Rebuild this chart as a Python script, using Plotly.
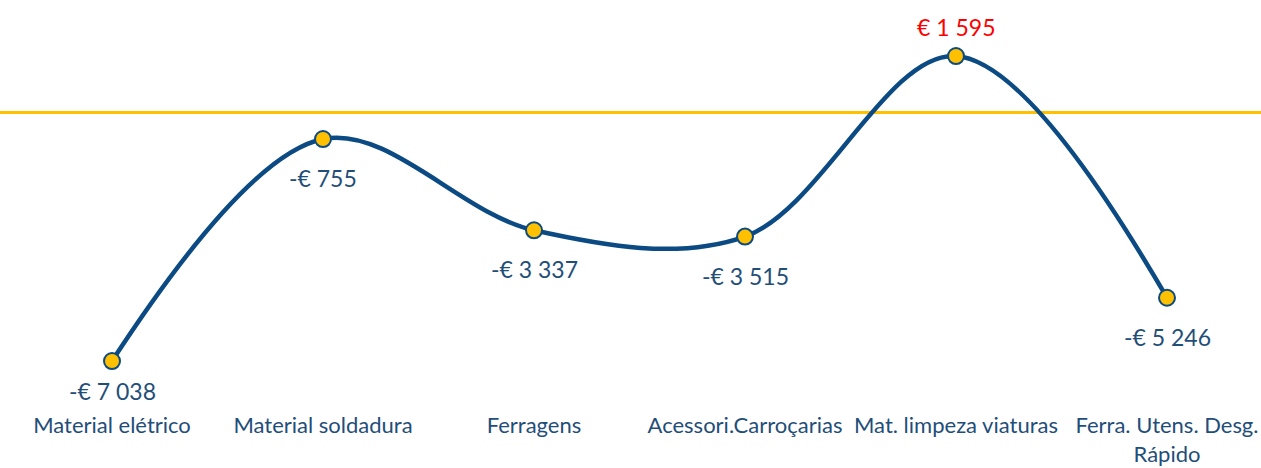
import plotly.graph_objects as go

categories = ["Material elétrico", "Material soldadura", "Ferragens",
              "Acessori.Carroçarias", "Mat. limpeza viaturas", "Ferra. Utens. Desg.<br>Rápido"]
values = [-7038, -755, -3337, -3515, 1595, -5246]
labels = ["-€ 7 038", "-€ 755", "-€ 3 337", "-€ 3 515", "€ 1 595", "-€ 5 246"]

BLUE = "#0B4A82"
TEXT = "#1F4E79"
GOLD = "#FFC000"
FONT = "Lato, Calibri, Carlito, sans-serif"

fig = go.Figure()
fig.add_trace(go.Scatter(
    x=list(range(len(categories))), y=values, mode="lines+markers",
    line=dict(color=BLUE, width=4.5, shape="spline", smoothing=1.0),
    marker=dict(size=16, color=GOLD, line=dict(color=BLUE, width=2)),
    hoverinfo="skip", cliponaxis=False,
))

vmin = min(values)
for i, (v, t) in enumerate(zip(values, labels)):
    pos = v >= 0
    if pos:
        shift = 29
    elif v == vmin:
        shift = -30
    else:
        shift = -39
    fig.add_annotation(
        x=i, y=v, text=t, showarrow=False, yshift=shift,
        font=dict(size=23, color="#FF0000" if pos else TEXT, family=FONT),
    )

OFF = 0  # body margin removed via post_script
step = 211.0
first_center = 112.0
x0 = -0.5 + (OFF - (first_center - step / 2)) / step
W = 1261
H = 468
zero_y = 112.4
scale = 0.03533
plot_bottom_page = 410
B = OFF + H - plot_bottom_page

fig.update_layout(
    width=W, height=H,
    margin=dict(l=0, r=0, t=0, b=B),
    paper_bgcolor="white", plot_bgcolor="white",
    showlegend=False,
    font=dict(family=FONT, color=TEXT, size=22),
    xaxis=dict(
        range=[x0, x0 + W / step],
        tickmode="array", tickvals=list(range(len(categories))), ticktext=categories,
        showgrid=False, zeroline=False, showline=False, ticks="",
        tickfont=dict(size=22, color=TEXT, family=FONT), tickangle=0,
        automargin=False,
    ),
    yaxis=dict(
        range=[-(plot_bottom_page - zero_y) / scale, (zero_y - OFF) / scale],
        showgrid=False, showticklabels=False, ticks="",
        zeroline=True, zerolinecolor=GOLD, zerolinewidth=3,
        automargin=False,
    ),
)

fig.write_html(
    "out.html",
    config={"displayModeBar": False},
    post_script="document.body.style.margin='0';document.body.style.overflow='hidden';",
)
